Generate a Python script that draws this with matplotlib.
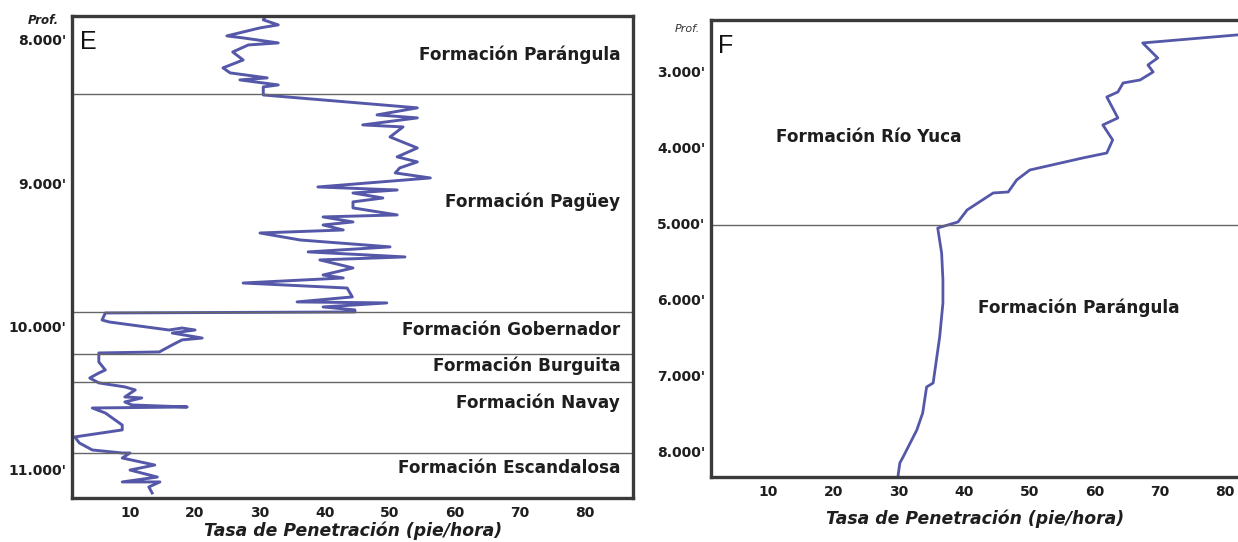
"""
plot.py
Rate of penetration vs. depth for two wells (panels E and F),
with the formation tops drawn as horizontal lines.
"""

import matplotlib
matplotlib.use("Agg")
import matplotlib.pyplot as plt
import matplotlib.transforms as mtransforms

# ---- Panel E: ROP (ft/h) vs depth (ft) ----
rop_e = [30.8, 30.5, 32.8, 30.0, 24.9, 27.4, 32.8, 28.2, 25.8, 27.4,
         24.3, 25.4, 31.1, 26.9, 32.8, 30.5, 30.5, 54.2, 48.0, 54.2,
         45.8, 52.0, 50.0, 54.2, 51.1, 54.2, 51.5, 50.8, 56.2, 38.9,
         51.1, 44.3, 48.9, 44.3, 44.3, 51.1, 39.7, 44.3, 39.7, 42.8,
         30.0, 36.2, 50.0, 37.4, 52.3, 39.2, 44.3, 39.7, 42.8, 27.4,
         43.4, 44.2, 35.7, 49.5, 39.7, 44.6, 44.6, 6.2, 5.7, 6.8,
         16.0, 18.0, 20.0, 16.5, 21.1, 18.0, 16.5, 14.5, 5.2, 5.2,
         6.2, 5.2, 3.8, 5.2, 9.2, 10.8, 9.2, 11.8, 9.2, 10.3,
         18.8, 4.2, 6.2, 8.8, 8.8, 1.5, 2.2, 4.2, 8.8, 10.0,
         8.8, 13.8, 10.0, 14.2, 8.8, 14.6, 12.9, 13.4]
depth_e = [7837, 7860, 7895, 7916, 7972, 7986, 8021, 8035, 8084, 8140,
           8195, 8230, 8265, 8279, 8314, 8328, 8384, 8474, 8523, 8544,
           8593, 8607, 8677, 8754, 8816, 8851, 8893, 8928, 8963, 9026,
           9047, 9068, 9103, 9130, 9172, 9221, 9235, 9270, 9291, 9326,
           9347, 9396, 9444, 9479, 9514, 9535, 9591, 9640, 9661, 9696,
           9731, 9793, 9828, 9835, 9863, 9884, 9898, 9905, 9954, 9968,
           10024, 10010, 10024, 10045, 10080, 10093, 10128, 10177, 10184, 10247,
           10303, 10324, 10359, 10393, 10421, 10442, 10491, 10498, 10526, 10547,
           10561, 10568, 10603, 10687, 10721, 10770, 10812, 10861, 10882, 10882,
           10917, 10966, 11001, 11050, 11084, 11084, 11119, 11161]

tops_e = [8377, 9896, 10188, 10384, 10879]
formations_e = ["Formación Parángula", "Formación Pagüey", "Formación Gobernador",
                "Formación Burguita", "Formación Navay", "Formación Escandalosa"]
label_depth_e = [8105, 9130, 10024, 10275, 10533, 10987]
yticks_e = [8000, 9000, 10000, 11000]
ylabels_e = ["8.000'", "9.000'", "10.000'", "11.000'"]

# ---- Panel F ----
rop_f = [81.8, 67.4, 69.7, 68.2, 69.0, 67.0, 64.4, 63.6, 61.9, 63.6,
         61.3, 62.8, 61.9, 58.2, 50.1, 48.1, 46.8, 44.5, 40.5, 39.1,
         36.0, 36.6, 36.8, 36.8, 36.3, 35.3, 34.3, 33.7, 32.8, 30.7,
         30.2, 29.9]
depth_f = [2513, 2618, 2816, 2908, 3000, 3105, 3145, 3263, 3329, 3605,
           3697, 3895, 4066, 4132, 4290, 4421, 4579, 4592, 4816, 4974,
           5053, 5382, 5737, 6040, 6487, 7093, 7145, 7487, 7711, 8066,
           8145, 8329]

tops_f = [5010]
formations_f = ["Formación Río Yuca", "Formación Parángula"]
label_rop_f = [11.2, 42.1]
label_depth_f = [3855, 6105]
yticks_f = [3000, 4000, 5000, 6000, 7000, 8000]
ylabels_f = ["3.000'", "4.000'", "5.000'", "6.000'", "7.000'", "8.000'"]

xticks = [10, 20, 30, 40, 50, 60, 70, 80]
xlabel = "Tasa de Penetración (pie/hora)"

LINE_COLOR = "#5558a8"
FRAME_COLOR = "#3a3a3a"
TEXT_COLOR = "#1e1e1e"

plt.rcParams["font.family"] = ["DejaVu Sans"]


def style_axes(ax, yticks, ylabels):
    for s in ax.spines.values():
        s.set_linewidth(2.4)
        s.set_color(FRAME_COLOR)
    ax.set_xticks(xticks)
    ax.set_xticklabels([str(t) for t in xticks], fontweight="bold",
                       fontsize=10, color=TEXT_COLOR)
    ax.set_yticks(yticks)
    ax.set_yticklabels(ylabels, fontweight="bold", fontsize=10, color=TEXT_COLOR)
    ax.tick_params(axis="both", length=0)
    ax.tick_params(axis="x", pad=6)
    ax.tick_params(axis="y", pad=4)


def main():
    fig = plt.figure(figsize=(12.38, 5.42), dpi=100)

    # Panel E
    ax_e = fig.add_axes([0.0582, 0.0812, 0.4532, 0.8893])
    ax_e.plot(rop_e, depth_e, color=LINE_COLOR, lw=2.1, solid_joinstyle="round")
    for d in tops_e:
        ax_e.axhline(d, color="#666666", lw=1.0)
    ax_e.set_xlim(1.08, 87.4)
    ax_e.set_ylim(11196, 7833)
    style_axes(ax_e, yticks_e, ylabels_e)
    trans_e = mtransforms.blended_transform_factory(ax_e.transAxes, ax_e.transData)
    for name, d in zip(formations_e, label_depth_e):
        ax_e.text(0.977, d, name, transform=trans_e, ha="right", va="center",
                  fontsize=12.2, fontweight="bold", color=TEXT_COLOR)
    ax_e.text(0.014, 0.947, "E", transform=ax_e.transAxes, fontsize=18,
              family="Liberation Sans", va="center", ha="left", color="#111111")
    ax_e.set_xlabel(xlabel, fontsize=12.4, fontweight="bold", style="italic",
                    color=TEXT_COLOR, labelpad=1)
    fig.text(59 / 1238, 1 - 20 / 542, "Prof.", ha="right", va="center",
             fontsize=8.5, fontweight="bold", style="italic", color=TEXT_COLOR)

    # Panel F (frame runs past the right edge of the picture)
    ax_f = fig.add_axes([0.5743, 0.1199, 0.4758, 0.8432])
    ax_f.plot(rop_f, depth_f, color=LINE_COLOR, lw=2.0, solid_joinstyle="round")
    for d in tops_f:
        ax_f.axhline(d, color="#666666", lw=1.0)
    ax_f.set_xlim(1.27, 91.5)
    ax_f.set_ylim(8330, 2316)
    style_axes(ax_f, yticks_f, ylabels_f)
    for name, x, d in zip(formations_f, label_rop_f, label_depth_f):
        ax_f.text(x, d, name, ha="left", va="center", fontsize=12.2,
                  fontweight="bold", color=TEXT_COLOR)
    ax_f.text(0.012, 0.944, "F", transform=ax_f.transAxes, fontsize=18,
              family="Liberation Sans", va="center", ha="left", color="#111111")
    fig.text(975 / 1238, 1 - 519 / 542, xlabel, ha="center", va="center",
             fontsize=12.4, fontweight="bold", style="italic", color=TEXT_COLOR)
    fig.text(700 / 1238, 1 - 29 / 542, "Prof.", ha="right", va="center",
             fontsize=8, style="italic", color="#333333")

    fig.savefig("out.png", dpi=100)
    plt.close(fig)


if __name__ == "__main__":
    main()
